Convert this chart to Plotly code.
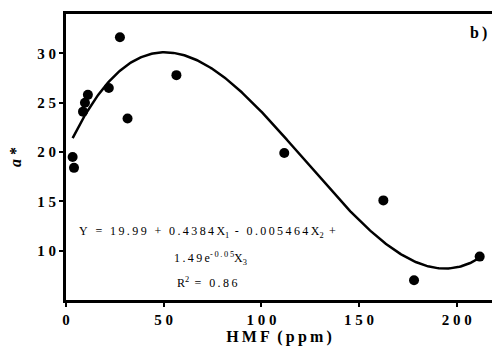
import numpy as np
import plotly.graph_objects as go

# Data
hmf = [3.4, 4.1, 8.7, 9.7, 11.2, 21.9, 27.6, 31.5, 56.5, 111.7, 162.4, 178.1, 211.7]
a_star = [19.5, 18.4, 24.1, 25.0, 25.8, 26.5, 31.65, 23.4, 27.8, 19.9, 15.1, 7.0, 9.4]

# Regression coefficients printed on the chart
coef = [19.99, 0.4384, -0.005464, 1.49e-05]
fit_range = [3.4, 211.7]

x_ticks = [0, 50, 100, 150, 200]
y_ticks = [10, 15, 20, 25, 30]

THIN = "\u2009"


def sp(s):
    return THIN.join(list(s))


xf = np.linspace(fit_range[0], fit_range[1], 300)
yf = coef[0] + coef[1] * xf + coef[2] * xf ** 2 + coef[3] * xf ** 3

serif = "Liberation Serif"

fig = go.Figure()
fig.add_trace(go.Scatter(x=xf, y=yf, mode="lines",
                         line=dict(color="black", width=2.5), hoverinfo="skip"))
fig.add_trace(go.Scatter(x=hmf, y=a_star, mode="markers",
                         marker=dict(color="black", size=10)))

bold_tick = dict(family=serif, size=15, color="black", weight="bold")
bold_title = dict(family=serif, size=16, color="black", weight="bold")

fig.update_layout(
    width=492, height=358,
    margin=dict(l=66, r=0, t=14, b=58),
    plot_bgcolor="white", paper_bgcolor="white",
    showlegend=False,
    font=dict(family=serif, color="black"),
    xaxis=dict(
        range=[0, 218], showgrid=False, zeroline=False,
        showline=True, linecolor="black", linewidth=3, mirror=True,
        ticks="outside", ticklen=4, tickwidth=2, tickcolor="black",
        tickvals=x_ticks, ticktext=[" ".join(str(v)) for v in x_ticks],
        tickfont=bold_tick,
        title=dict(text=sp("HMF") + "  " + sp("(ppm)"), font=bold_title, standoff=4),
    ),
    yaxis=dict(
        range=[5, 34], showgrid=False, zeroline=False,
        showline=True, linecolor="black", linewidth=3, mirror=False,
        ticks="outside", ticklen=4, tickwidth=2, tickcolor="black",
        tickvals=y_ticks, ticktext=[" ".join(str(v)) for v in y_ticks],
        tickfont=bold_tick,
        title=dict(text="<i>a</i> *", font=bold_title, standoff=12),
    ),
)

line1 = (sp("Y = 19.99 + 0.4384X") + "<sub>1</sub>" + sp(" - 0.005464X")
         + "<sub>2</sub>" + sp(" +"))
line2 = sp("1.49e") + "<sup>" + sp("-0.05") + "</sup>" + "X<sub>3</sub>"
line3 = "R<sup>2</sup>" + sp(" = 0.86")

ann_font = dict(family=serif, size=12, color="black")
for txt, xpx, ypx in [(line1, 207, 232), (line2, 210, 258), (line3, 207, 282)]:
    fig.add_annotation(x=(xpx - 66) / 426, y=1 - (ypx - 14) / 286,
                       xref="paper", yref="paper", text=txt, showarrow=False,
                       xanchor="center", yanchor="middle", font=ann_font)

fig.add_annotation(x=(489 - 66) / 426, y=1 - (33 - 14) / 286, xref="paper", yref="paper",
                   text=sp("b)"), showarrow=False,
                   xanchor="right", yanchor="middle",
                   font=dict(family=serif, size=16, color="black", weight="bold"))

fig.write_html("out.html")
